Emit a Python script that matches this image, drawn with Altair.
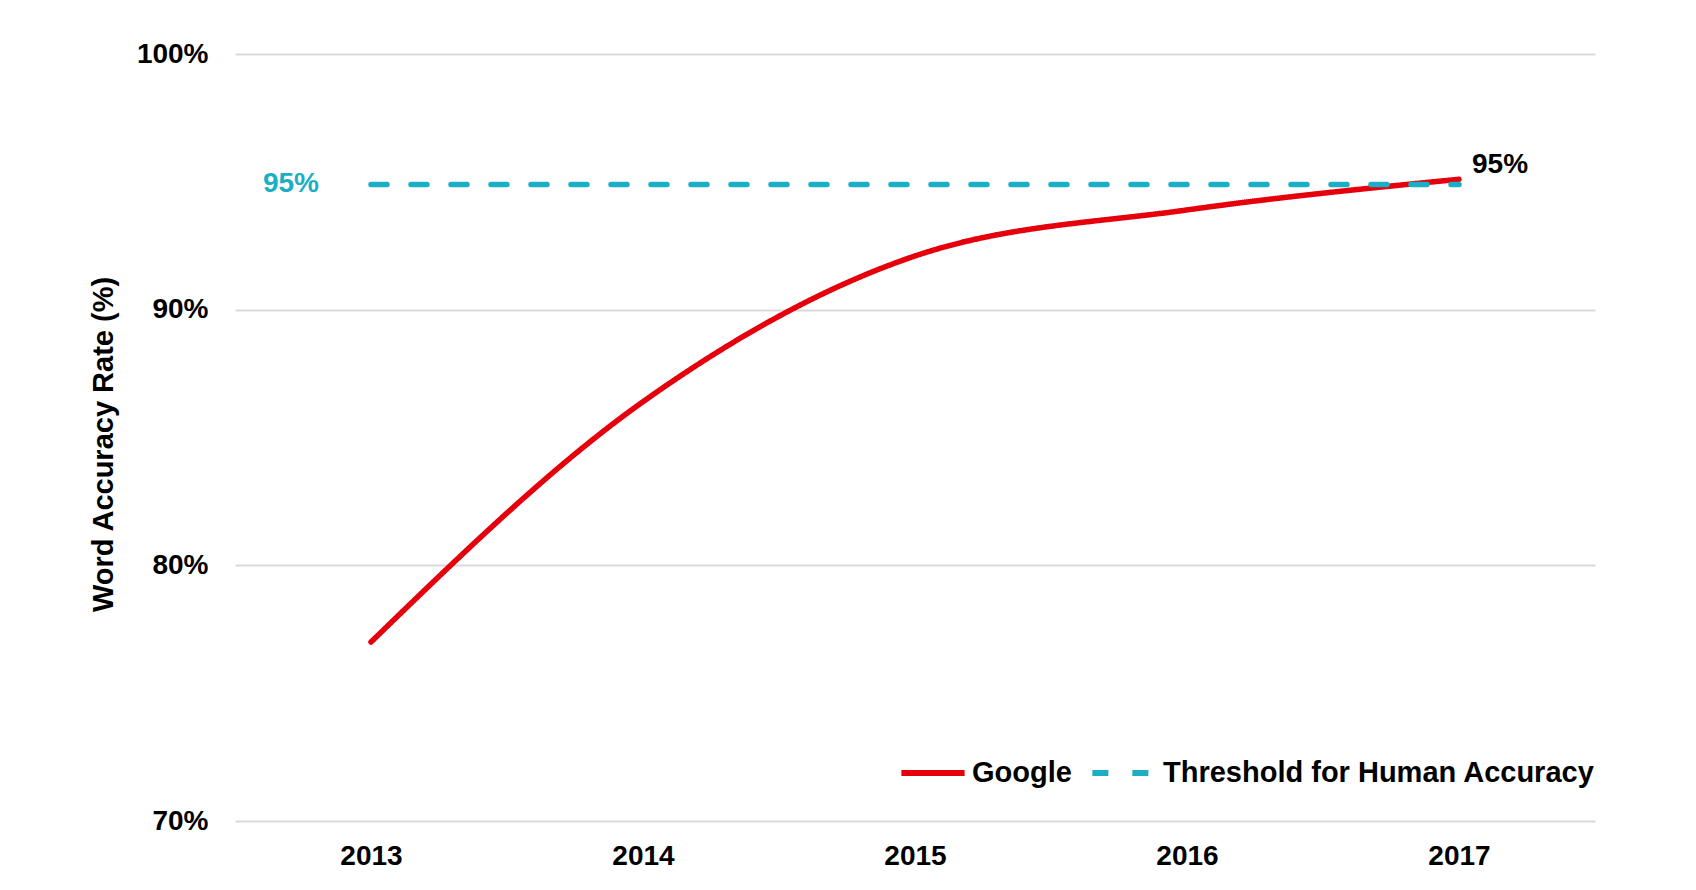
import altair as alt
import pandas as pd

years = ["2013", "2014", "2015", "2016", "2017"]
google = [77.0, 86.4, 92.1, 93.9, 95.1]
threshold = [94.9, 94.9, 94.9, 94.9, 94.9]
series = ["Google", "Threshold for Human Accuracy"]
y_ticks = [70, 80, 90, 100]

rows = []
for name, vals in zip(series, [google, threshold]):
    for yr, v in zip(years, vals):
        rows.append({"Year": yr, "Rate": v, "Series": name})
df = pd.DataFrame(rows)

red = "#E5000C"
cyan = "#1BAFC5"
font = "Liberation Sans"

x = alt.X("Year:O", title=None,
          axis=alt.Axis(labelAngle=0, labelFontSize=28, labelFontWeight="bold",
                        labelColor="black", labelPadding=21, ticks=False,
                        domain=False, grid=False))
y = alt.Y("Rate:Q", title="Word Accuracy Rate (%)",
          scale=alt.Scale(domain=[70, 100], nice=False, zero=False),
          axis=alt.Axis(values=y_ticks, labelExpr="datum.value + '%'",
                        labelFontSize=28, labelFontWeight="bold", labelColor="black",
                        labelPadding=27, ticks=False, domain=False,
                        gridColor="#D9D9D9", gridWidth=2,
                        titleFontSize=29, titleFontWeight="bold", titleColor="black",
                        titlePadding=18, titleY=390))

legend = alt.Legend(title=None, orient="none", direction="horizontal",
                    legendX=663, legendY=684, padding=0,
                    symbolType="stroke", symbolSize=4000,
                    symbolStrokeWidth=6, labelFontSize=29,
                    labelFontWeight="bold", labelColor="black",
                    labelOffset=4, columnPadding=8, labelLimit=600)

lines = alt.Chart(df).mark_line(
    interpolate="monotone", strokeWidth=5.5, strokeCap="round"
).encode(
    x=x,
    y=y,
    color=alt.Color("Series:N",
                    scale=alt.Scale(domain=series, range=[red, cyan]),
                    legend=legend),
    strokeDash=alt.StrokeDash("Series:N",
                              scale=alt.Scale(domain=series, range=[[1, 0], [16, 24]]),
                              legend=legend),
)

end_label = alt.Chart(df).transform_filter(
    (alt.datum.Series == "Google") & (alt.datum.Year == "2017")
).mark_text(
    align="left", baseline="middle", dx=13, dy=-14,
    fontSize=28, fontWeight="bold", color="black"
).encode(x="Year:O", y="Rate:Q", text=alt.value("95%"))

thr_label = alt.Chart(df).transform_filter(
    (alt.datum.Series == "Threshold for Human Accuracy") & (alt.datum.Year == "2013")
).mark_text(
    align="right", baseline="middle", dx=-52,
    fontSize=28, fontWeight="bold", color=cyan
).encode(x="Year:O", y="Rate:Q", text=alt.value("95%"))

chart = alt.layer(lines, end_label, thr_label).properties(
    width=1360,
    height=767,
    autosize=alt.AutoSizeParams(type="none"),
    padding={"left": 227, "top": 46, "right": 93, "bottom": 61},
).configure(
    font=font
).configure_view(
    stroke=None
)

chart.save("out.html", embed_options={"renderer": "svg", "actions": False})
